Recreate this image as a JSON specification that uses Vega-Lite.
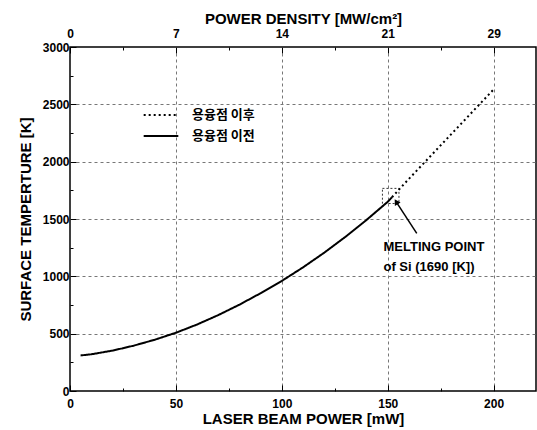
{
  "$schema": "https://vega.github.io/schema/vega-lite/v6.json",
  "width": 466,
  "height": 344,
  "autosize": {"type": "none"},
  "padding": {"left": 70, "top": 47, "right": 1, "bottom": 39},
  "background": "white",
  "config": {
    "view": {"stroke": "black", "strokeWidth": 1.5},
    "font": "Liberation Sans, Arial, sans-serif",
    "axis": {
      "labelFont": "Liberation Sans, Arial, sans-serif",
      "titleFont": "Liberation Sans, Arial, sans-serif",
      "labelFontWeight": "bold",
      "titleFontWeight": "bold",
      "labelFontSize": 12,
      "titleFontSize": 15,
      "labelColor": "black",
      "titleColor": "black",
      "tickColor": "black",
      "domain": false,
      "gridColor": "#777777",
      "gridDash": [3, 3],
      "gridWidth": 1
    }
  },
  "datasets": {
    "curve": [
      {"power": 5, "temp": 310, "phase": "용융점 이전"},
      {"power": 10, "temp": 320, "phase": "용융점 이전"},
      {"power": 20, "temp": 352, "phase": "용융점 이전"},
      {"power": 30, "temp": 395, "phase": "용융점 이전"},
      {"power": 40, "temp": 447, "phase": "용융점 이전"},
      {"power": 50, "temp": 508, "phase": "용융점 이전"},
      {"power": 60, "temp": 580, "phase": "용융점 이전"},
      {"power": 70, "temp": 662, "phase": "용융점 이전"},
      {"power": 80, "temp": 753, "phase": "용융점 이전"},
      {"power": 90, "temp": 853, "phase": "용융점 이전"},
      {"power": 100, "temp": 960, "phase": "용융점 이전"},
      {"power": 110, "temp": 1078, "phase": "용융점 이전"},
      {"power": 120, "temp": 1206, "phase": "용융점 이전"},
      {"power": 130, "temp": 1344, "phase": "용융점 이전"},
      {"power": 140, "temp": 1492, "phase": "용융점 이전"},
      {"power": 150, "temp": 1650, "phase": "용융점 이전"},
      {"power": 152, "temp": 1690, "phase": "용융점 이전"},
      {"power": 152, "temp": 1690, "phase": "용융점 이후"},
      {"power": 160, "temp": 1850, "phase": "용융점 이후"},
      {"power": 170, "temp": 2045, "phase": "용융점 이후"},
      {"power": 180, "temp": 2240, "phase": "용융점 이후"},
      {"power": 190, "temp": 2435, "phase": "용융점 이후"},
      {"power": 200, "temp": 2630, "phase": "용융점 이후"}
    ],
    "box": [{"x1": 147.5, "x2": 155.3, "y1": 1635, "y2": 1767}],
    "arrow": [{"x1": 163.7, "y1": 1374, "x2": 154, "y2": 1650}],
    "labels": [
      {"px": 148, "t": 1257, "text": "MELTING POINT"},
      {"px": 148, "t": 1082, "text": "of Si (1690 [K])"}
    ]
  },
  "layer": [
    {
      "data": {"name": "curve"},
      "mark": {"type": "line", "color": "black", "strokeWidth": 2},
      "encoding": {
        "x": {
          "field": "power", "type": "quantitative",
          "scale": {"domain": [0, 220], "nice": false, "zero": false},
          "axis": {
            "orient": "bottom",
            "title": "LASER BEAM POWER [mW]",
            "values": [0, 25, 50, 75, 100, 125, 150, 175, 200],
            "labelExpr": "datum.value % 50 == 0 ? datum.label : ''",
            "labelFontWeight": "bold",
            "tickSize": {"condition": {"test": "datum.value % 50 == 0", "value": -6}, "value": -3},
            "gridOpacity": {"condition": {"test": "datum.value % 50 == 0 && datum.value > 0", "value": 1}, "value": 0},
            "labelPadding": 13,
            "titlePadding": 2,
            "labelFlush": false
          }
        },
        "y": {
          "field": "temp", "type": "quantitative",
          "scale": {"domain": [0, 3000], "nice": false},
          "axis": {
            "orient": "left",
            "title": "SURFACE TEMPERTURE [K]",
            "values": [0, 250, 500, 750, 1000, 1250, 1500, 1750, 2000, 2250, 2500, 2750, 3000],
            "labelExpr": "datum.value % 500 == 0 ? datum.label : ''",
            "labelFontWeight": "bold",
            "format": "d",
            "tickSize": {"condition": {"test": "datum.value % 500 == 0", "value": -6}, "value": -3},
            "gridOpacity": {"condition": {"test": "datum.value % 500 == 0 && datum.value > 0 && datum.value < 3000", "value": 1}, "value": 0},
            "labelPadding": 7,
            "titlePadding": 9,
            "labelFlush": false
          }
        },
        "strokeDash": {
          "field": "phase", "type": "nominal",
          "scale": {"domain": ["용융점 이후", "용융점 이전"], "range": [[2, 3], [1, 0]]},
          "legend": {
            "orient": "none", "legendX": 81, "legendY": 58, "title": null,
            "symbolType": "M-2,0H2", "symbolSize": 300, "symbolStrokeWidth": 2,
            "symbolStrokeColor": "black", "symbolFillColor": "transparent",
            "labelFont": "Noto Sans CJK KR", "labelFontWeight": "bold",
            "labelFontSize": 13, "labelColor": "black", "labelOffset": 21,
            "rowPadding": 4
          }
        }
      }
    },
    {
      "data": {"name": "box"},
      "mark": {"type": "rect", "fill": null, "fillOpacity": 0, "stroke": "black", "strokeWidth": 0.8, "strokeDash": [2, 2]},
      "encoding": {
        "x": {"field": "x1", "type": "quantitative", "axis": null},
        "x2": {"field": "x2"},
        "y": {"field": "y1", "type": "quantitative", "axis": null},
        "y2": {"field": "y2"}
      }
    },
    {
      "data": {"name": "arrow"},
      "mark": {"type": "rule", "color": "black", "strokeWidth": 1.5},
      "encoding": {
        "x": {"field": "x1", "type": "quantitative", "axis": null},
        "x2": {"field": "x2"},
        "y": {"field": "y1", "type": "quantitative", "axis": null},
        "y2": {"field": "y2"}
      }
    },
    {
      "data": {"name": "arrow"},
      "mark": {"type": "point", "shape": "triangle-up", "filled": true, "color": "black", "size": 45, "angle": 328, "opacity": 1},
      "encoding": {
        "x": {"field": "x2", "type": "quantitative", "axis": null},
        "y": {"field": "y2", "type": "quantitative", "axis": null}
      }
    },
    {
      "data": {"name": "labels"},
      "mark": {"type": "text", "align": "left", "baseline": "middle", "fontSize": 13, "fontWeight": "bold", "color": "black", "font": "Liberation Sans, Arial, sans-serif"},
      "encoding": {
        "x": {"field": "px", "type": "quantitative", "axis": null},
        "y": {"field": "t", "type": "quantitative", "axis": null},
        "text": {"field": "text"}
      }
    },
    {
      "data": {"name": "curve"},
      "mark": {"type": "point", "opacity": 0},
      "encoding": {
        "x": {
          "field": "power", "type": "quantitative",
          "axis": {
            "orient": "top",
            "title": "POWER DENSITY [MW/cm²]",
            "values": [0, 25, 50, 75, 100, 125, 150, 175, 200],
            "labelExpr": "datum.value == 0 ? '0' : datum.value == 50 ? '7' : datum.value == 100 ? '14' : datum.value == 150 ? '21' : datum.value == 200 ? '29' : ''",
            "labelFontWeight": "bold",
            "tickSize": {"condition": {"test": "datum.value % 50 == 0", "value": -6}, "value": -3},
            "grid": false,
            "labelPadding": 13,
            "titlePadding": 1,
            "labelFlush": false
          }
        },
        "y": {"field": "temp", "type": "quantitative", "axis": null}
      }
    }
  ],
  "resolve": {"axis": {"x": "independent", "y": "independent"}}
}
